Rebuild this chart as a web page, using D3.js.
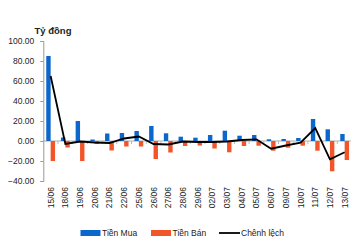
<!DOCTYPE html>
<html>
<head>
<meta charset="utf-8">
<script src="https://cdn.jsdelivr.net/npm/d3@7"></script>
<style>
  body { margin: 0; background: #fff; }
  text { font-family: "Liberation Sans", Arial, sans-serif; fill: #222; }
</style>
</head>
<body>
<div id="chart"></div>
<script>
// data
let dates = ["15/06", "18/06", "19/06", "20/06", "21/06", "22/06", "25/06", "26/06", "27/06", "28/06",
  "29/06", "02/07", "03/07", "04/07", "05/07", "06/07", "09/07", "10/07", "11/07", "12/07", "13/07"];
let buyValues = [85, 3.5, 20, 1.5, 7.5, 8, 10, 15, 7.7, 4.3, 3.3, 6, 10.3, 5.3, 6, 1.7, 2, 3, 22, 11.7, 7];
let sellValues = [-20, -6.5, -20, -3, -9.5, -5.5, -5.5, -18, -11.5, -5, -4.5, -7.5, -11.3, -5, -4.7, -9.7, -6.7, -4.7, -9.7, -30.3, -19];
let diffValues = [65, -3, -0.5, -1.5, -2, 2.5, 4.5, -3, -3.5, -0.5, -1, -1, -0.5, 1, 1.7, -7.7, -4.5, -1.7, 13, -18.3, -11.3];
let yTicks = [100, 80, 60, 40, 20, 0, -20, -40];
let legendItems = ["Tiền Mua", "Tiền Bán", "Chênh lệch"];

let width = 351, height = 240;
let buyColor = "#0b67cc", sellColor = "#f2552a", diffColor = "#000";

let svg = d3.select("#chart").append("svg")
  .attr("width", width)
  .attr("height", height);

let xScale = d3.scaleBand()
  .domain(dates)
  .range([43.3, 352]);

let yScale = d3.scaleLinear()
  .domain([-40, 100])
  .range([181, 41]);

let bw = 4.4;

// x axis line at zero with ticks at category boundaries
svg.append("line")
  .attr("x1", xScale.range()[0]).attr("x2", width)
  .attr("y1", yScale(0)).attr("y2", yScale(0))
  .attr("stroke", "#aaa").attr("stroke-width", 1);

svg.selectAll(".xtick")
  .data(dates)
  .enter()
  .append("line")
  .attr("class", "xtick")
  .attr("x1", d => xScale(d) + xScale.bandwidth())
  .attr("x2", d => xScale(d) + xScale.bandwidth())
  .attr("y1", yScale(0)).attr("y2", yScale(0) + 3)
  .attr("stroke", "#bbb");

// bars
svg.selectAll(".buy")
  .data(buyValues)
  .enter()
  .append("rect")
  .attr("class", "buy")
  .attr("x", (d, i) => xScale(dates[i]) + xScale.bandwidth() / 2 - bw)
  .attr("y", d => yScale(d))
  .attr("width", bw)
  .attr("height", d => yScale(0) - yScale(d))
  .attr("fill", buyColor);

svg.selectAll(".sell")
  .data(sellValues)
  .enter()
  .append("rect")
  .attr("class", "sell")
  .attr("x", (d, i) => xScale(dates[i]) + xScale.bandwidth() / 2)
  .attr("y", yScale(0))
  .attr("width", bw)
  .attr("height", d => yScale(d) - yScale(0))
  .attr("fill", sellColor);

// difference line
let line = d3.line()
  .x((d, i) => xScale(dates[i]) + xScale.bandwidth() / 2)
  .y(d => yScale(d));

svg.append("path")
  .datum(diffValues)
  .attr("d", line)
  .attr("fill", "none")
  .attr("stroke", diffColor)
  .attr("stroke-width", 1.8);

// y axis
let yAxis = d3.axisLeft(yScale)
  .tickValues(yTicks)
  .tickSize(3)
  .tickPadding(6)
  .tickFormat(d3.format(".2f"));

let gy = svg.append("g")
  .attr("transform", "translate(43.3,0)")
  .call(yAxis);
gy.select(".domain").attr("stroke", "#999");
gy.selectAll(".tick line").attr("stroke", "#999");
gy.selectAll(".tick text")
  .attr("font-size", "8.5px")
  .attr("font-family", "Liberation Sans, Arial, sans-serif")
  .attr("fill", "#222");

// x labels, rotated
svg.selectAll(".xlabel")
  .data(dates)
  .enter()
  .append("text")
  .attr("class", "xlabel")
  .attr("transform", d => "translate(" + (xScale(d) + xScale.bandwidth() / 2 + 3) + ",187) rotate(-90)")
  .attr("text-anchor", "end")
  .attr("font-size", "8.5px")
  .text(d => d);

// unit title
svg.append("text")
  .attr("x", 34.5)
  .attr("y", 34)
  .attr("font-size", "9.5px")
  .attr("font-weight", "bold")
  .text("Tỷ đồng");

// legend
let legendX = [80.5, 151, 219];
let legend = svg.selectAll(".legend")
  .data(legendItems)
  .enter()
  .append("g")
  .attr("class", "legend")
  .attr("transform", (d, i) => "translate(" + legendX[i] + ",233)");

legend.each(function (d, i) {
  let g = d3.select(this);
  if (i < 2) {
    g.append("rect")
      .attr("x", 0).attr("y", -3)
      .attr("width", 20).attr("height", 6)
      .attr("fill", i === 0 ? buyColor : sellColor);
  } else {
    g.append("line")
      .attr("x1", 0).attr("x2", 21)
      .attr("y1", 0).attr("y2", 0)
      .attr("stroke", diffColor)
      .attr("stroke-width", 1.8);
  }
  g.append("text")
    .attr("x", i < 2 ? 21.5 : 22)
    .attr("y", 3)
    .attr("font-size", "8.5px")
    .text(d);
});
</script>
</body>
</html>
